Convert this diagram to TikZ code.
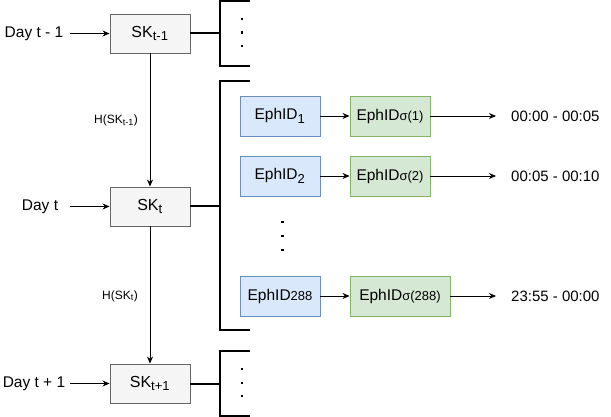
\documentclass[tikz,border=0pt]{standalone}
\usepackage{fontspec}
\setmainfont{Liberation Sans}
\usetikzlibrary{arrows.meta}
\definecolor{skfill}{HTML}{F5F5F5}
\definecolor{skdraw}{HTML}{666666}
\definecolor{bfill}{HTML}{DAE8FC}
\definecolor{bdraw}{HTML}{6C8EBF}
\definecolor{gfill}{HTML}{D5E8D4}
\definecolor{gdraw}{HTML}{82B366}
\tikzset{
  skbox/.style={draw=skdraw, fill=skfill, line width=0.9pt, minimum width=80pt, minimum height=39pt, inner sep=0pt, font=\fontsize{16}{19}\selectfont},
  ebox/.style={draw=bdraw, fill=bfill, line width=0.9pt, minimum width=80pt, minimum height=40pt, inner sep=0pt, font=\fontsize{15.5}{18}\selectfont},
  gbox/.style={draw=gdraw, fill=gfill, line width=0.9pt, minimum height=40pt, inner sep=0pt, font=\fontsize{15.5}{18}\selectfont},
  lbl/.style={inner sep=0pt, font=\fontsize{15.5}{18}\selectfont},
  tlbl/.style={inner sep=0pt, font=\fontsize{15}{18}\selectfont},
  hlbl/.style={inner sep=0pt, font=\fontsize{12}{14}\selectfont},
  arr/.style={line width=0.9pt, -{Stealth[length=7pt,width=6pt]}},
  brk/.style={line width=2pt},
  dotm/.style={rectangle, fill=black, inner sep=0pt, minimum size=2.6pt}
}
\newcommand{\sm}[1]{{\fontsize{13}{15}\selectfont #1}}
\begin{document}
\begin{tikzpicture}[x=1pt,y=-1pt]
\useasboundingbox (0,0) rectangle (611,417);
% SK boxes
\node[skbox] (sk0) at (150,33.5) {SK$_{\mbox{\sm{t-1}}}$};
\node[skbox] (sk1) at (150,206.5) {SK$_{\mbox{\sm{t}}}$};
\node[skbox] (sk2) at (150,383.5) {SK$_{\mbox{\sm{t+1}}}$};
% day labels
\node[lbl] (d0) at (34,33.5) {Day t - 1};
\node[lbl] (d1) at (40,206.5) {Day t};
\node[lbl] (d2) at (34,383.5) {Day t + 1};
\draw[arr] (70,33.5) coordinate (d0e) -- (sk0.west);
\draw[arr] (70,206.5) coordinate (d1e) -- (sk1.west);
\draw[arr] (70,383.5) coordinate (d2e) -- (sk2.west);
% hash arrows
\draw[arr] (sk0.south) -- (sk1.north);
\draw[arr] (sk1.south) -- (sk2.north);
\node[hlbl] (h0) at (116,120) {H(SK$_{\mbox{\fontsize{9}{10}\selectfont t-1}}$)};
\node[hlbl] (h1) at (120,296) {H(SK$_{\mbox{\fontsize{9}{10}\selectfont t}}$)};
% brackets
\coordinate (b0) at (220,33.5);
\coordinate (b1) at (220,206.5);
\coordinate (b2) at (220,383.5);
\draw[brk] (250,1) -- (220,1) -- (220,66) -- (250,66);
\draw[brk] (250,81) -- (220,81) -- (220,330) -- (250,330);
\draw[brk] (250,351) -- (220,351) -- (220,416) -- (250,416);
\draw[brk] (sk0.east) -- (b0);
\draw[brk] (sk1.east) -- (b1);
\draw[brk] (sk2.east) -- (b2);
% dots
\foreach \yy [count=\i] in {19,32.5,46} \node[dotm] (ta\i) at (242,\yy) {};
\foreach \yy [count=\i] in {369,383,396} \node[dotm] (tb\i) at (242,\yy) {};
\foreach \yy [count=\i] in {222,236,250} \node[dotm] (tm\i) at (282.5,\yy) {};
% EphID rows
\node[ebox] (e1) at (280,116) {EphID$_{\mbox{\sm{1}}}$};
\node[gbox, minimum width=80pt] (g1) at (390,116) {EphID\sm{σ(1)}};
\node[ebox] (e2) at (280,176) {EphID$_{\mbox{\sm{2}}}$};
\node[gbox, minimum width=80pt] (g2) at (390,176) {EphID\sm{σ(2)}};
\node[ebox] (e3) at (280,296) {EphID\sm{288}};
\node[gbox, minimum width=100pt] (g3) at (400,296) {EphID\sm{σ(288)}};
\node[tlbl, anchor=west] (t1) at (511,116) {00:00 - 00:05};
\node[tlbl, anchor=west] (t2) at (511,176) {00:05 - 00:10};
\node[tlbl, anchor=west] (t3) at (511,296) {23:55 - 00:00};
\draw[arr] (e1) -- (g1);
\draw[arr] (e2) -- (g2);
\draw[arr] (e3) -- (g3);
\draw[arr] (g1) -- ([xshift=-15pt]t1.west);
\draw[arr] (g2) -- ([xshift=-15pt]t2.west);
\draw[arr] (g3) -- ([xshift=-15pt]t3.west);
\end{tikzpicture}
\end{document}
